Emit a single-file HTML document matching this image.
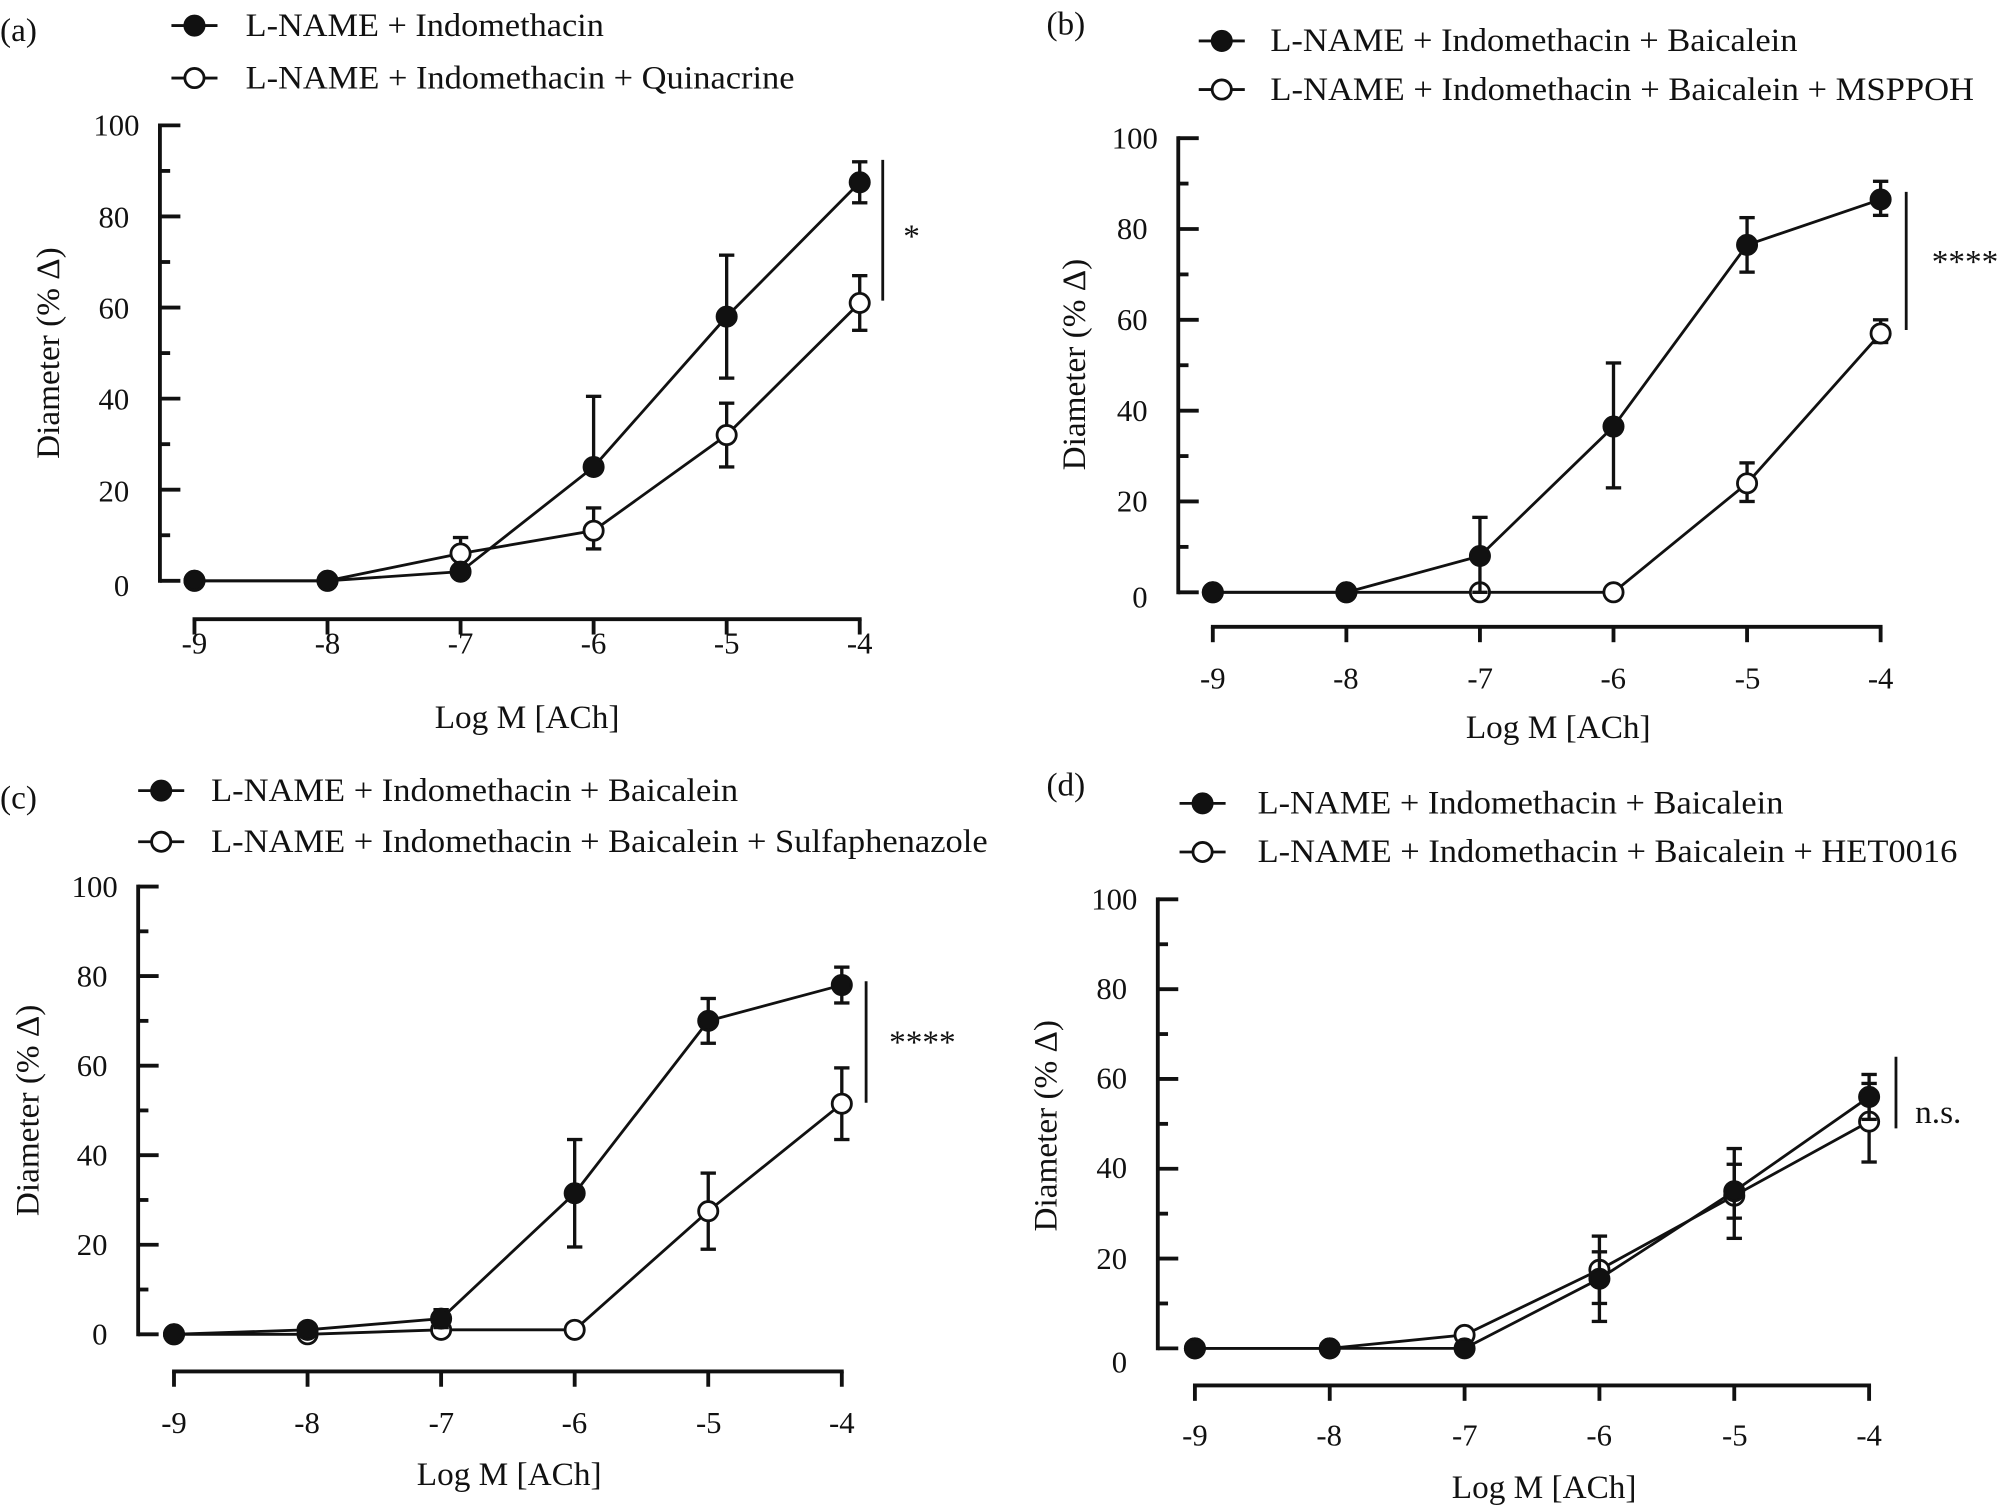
<!DOCTYPE html>
<html><head><meta charset="utf-8"><style>
html,body{margin:0;padding:0;background:#fff}
svg{display:block}
text{font-family:"Liberation Serif",serif;fill:#111}
</style></head><body>
<svg id="s" width="2006" height="1507" viewBox="0 0 1568 1178" preserveAspectRatio="none" xmlns="http://www.w3.org/2000/svg">
<g id="g" stroke="#111" stroke-width="2.2" fill="none"></g>
<g font-size="26">
<text x="0" y="32">(a)</text>
<text x="818" y="27">(b)</text>
<text x="0" y="632">(c)</text>
<text x="818" y="622">(d)</text>
<text x="192" y="28" textLength="280" lengthAdjust="spacingAndGlyphs">L-NAME + Indomethacin</text>
<text x="192" y="69" textLength="429" lengthAdjust="spacingAndGlyphs">L-NAME + Indomethacin + Quinacrine</text>
<text x="993" y="40" textLength="412" lengthAdjust="spacingAndGlyphs">L-NAME + Indomethacin + Baicalein</text>
<text x="993" y="78" textLength="550" lengthAdjust="spacingAndGlyphs">L-NAME + Indomethacin + Baicalein + MSPPOH</text>
<text x="165" y="626" textLength="412" lengthAdjust="spacingAndGlyphs">L-NAME + Indomethacin + Baicalein</text>
<text x="165" y="666" textLength="607" lengthAdjust="spacingAndGlyphs">L-NAME + Indomethacin + Baicalein + Sulfaphenazole</text>
<text x="983" y="636" textLength="411" lengthAdjust="spacingAndGlyphs">L-NAME + Indomethacin + Baicalein</text>
<text x="983" y="674" textLength="547" lengthAdjust="spacingAndGlyphs">L-NAME + Indomethacin + Baicalein + HET0016</text>
<text x="706" y="193">*</text>
<text x="1510" y="213">****</text>
<text x="695" y="823">****</text>
<text x="1497" y="878">n.s.</text>
<text x="412" y="569" text-anchor="middle">Log M [ACh]</text>
<text x="1218" y="577" text-anchor="middle">Log M [ACh]</text>
<text x="398" y="1161" text-anchor="middle">Log M [ACh]</text>
<text x="1207" y="1171" text-anchor="middle">Log M [ACh]</text>
<text transform="translate(46,276) rotate(-90)" text-anchor="middle">Diameter (% Δ)</text>
<text transform="translate(848,285) rotate(-90)" text-anchor="middle">Diameter (% Δ)</text>
<text transform="translate(30,868) rotate(-90)" text-anchor="middle">Diameter (% Δ)</text>
<text transform="translate(826,880) rotate(-90)" text-anchor="middle">Diameter (% Δ)</text>
</g>
<g font-size="24" text-anchor="end">
<text x="109" y="106">100</text><text x="101" y="178">80</text><text x="101" y="249">60</text><text x="101" y="320">40</text><text x="101" y="392">20</text><text x="101" y="466">0</text>
<text x="905" y="116">100</text><text x="897" y="187">80</text><text x="897" y="258">60</text><text x="897" y="329">40</text><text x="897" y="400">20</text><text x="897" y="475">0</text>
<text x="92" y="701">100</text><text x="84" y="771">80</text><text x="84" y="841">60</text><text x="84" y="911">40</text><text x="84" y="981">20</text><text x="84" y="1051">0</text>
<text x="889" y="711">100</text><text x="881" y="781">80</text><text x="881" y="851">60</text><text x="881" y="921">40</text><text x="881" y="992">20</text><text x="881" y="1073">0</text>
</g>
<g font-size="24" text-anchor="middle">
<text x="152" y="511">-9</text><text x="256" y="511">-8</text><text x="360" y="511">-7</text><text x="464" y="511">-6</text><text x="568" y="511">-5</text><text x="672" y="511">-4</text>
<text x="948" y="538">-9</text><text x="1052" y="538">-8</text><text x="1157" y="538">-7</text><text x="1261" y="538">-6</text><text x="1366" y="538">-5</text><text x="1470" y="538">-4</text>
<text x="136" y="1120">-9</text><text x="240" y="1120">-8</text><text x="345" y="1120">-7</text><text x="449" y="1120">-6</text><text x="554" y="1120">-5</text><text x="658" y="1120">-4</text>
<text x="934" y="1130">-9</text><text x="1039" y="1130">-8</text><text x="1145" y="1130">-7</text><text x="1250" y="1130">-6</text><text x="1356" y="1130">-5</text><text x="1461" y="1130">-4</text>
</g>
</svg>
<script>
const g=document.getElementById('g');const NS='http://www.w3.org/2000/svg';
function el(t,a){const e=document.createElementNS(NS,t);for(const k in a)e.setAttribute(k,a[k]);g.appendChild(e);return e;}
function L(x1,y1,x2,y2,w){const e=el('line',{x1,y1,x2,y2});if(w)e.setAttribute('stroke-width',w);}
function panel(P){
 const {ax,top,zero,xa,x0,x1}=P;const dx=(x1-x0)/5,sy=(zero-top)/100;
 const Y=v=>zero-v*sy,X=i=>x0+i*dx;
 L(ax,top-1.5,ax,zero+1.5,3);for(let v=0;v<=100;v+=10){L(ax,Y(v),ax+(v%20?8:16),Y(v),3);}
 L(x0-1.5,xa,x1+1.5,xa,3);for(let i=0;i<6;i++)L(X(i),xa,X(i),xa+12,3);
 for(const [s,fill] of [[P.o,'#fff'],[P.f,'#111']]){
  el('polyline',{points:s.map((d,i)=>X(i)+','+Y(d[0])).join(' ')});
  s.forEach((d,i)=>{if(d[1]!=null){const x=X(i);L(x,Y(d[1]),x,Y(d[2]),2.6);L(x-6,Y(d[1]),x+6,Y(d[1]),2.6);L(x-6,Y(d[2]),x+6,Y(d[2]),2.6);}});
  s.forEach((d,i)=>el('circle',{cx:X(i),cy:Y(d[0]),r:7.5,fill}));
 }
 L(P.sig[0],P.sig[1],P.sig[0],P.sig[2]);
 const [lx,ly1,ly2]=P.leg;
 L(lx-18,ly1,lx+18,ly1);el('circle',{cx:lx,cy:ly1,r:7.5,fill:'#111'});
 L(lx-18,ly2,lx+18,ly2);el('circle',{cx:lx,cy:ly2,r:7.5,fill:'#fff'});
}
panel({ax:125,top:98,zero:454,xa:484,x0:152,x1:672,
 f:[[0],[0],[2],[25,40.5,25],[58,71.5,44.5],[87.5,92,83]],
 o:[[0],[0],[6,9.5,3],[11,16,7],[32,39,25],[61,67,55]],sig:[690,125,235],leg:[152,20,61]});
panel({ax:921,top:108,zero:463,xa:490,x0:948,x1:1470,
 f:[[0],[0],[8,16.5,0],[36.5,50.5,23],[76.5,82.5,70.5],[86.5,90.5,83]],
 o:[[0],[0],[0],[0],[24,28.5,20],[57,60,55]],sig:[1490,150,258],leg:[955,32,70]});
panel({ax:108,top:693,zero:1043,xa:1072,x0:136,x1:658,
 f:[[0],[1],[3.5,5.5,1.5],[31.5,43.5,19.5],[70,75,65],[78,82,74]],
 o:[[0],[0],[1],[1],[27.5,36,19],[51.5,59.5,43.5]],sig:[677,767,862],leg:[126,618,658]});
panel({ax:905,top:703,zero:1054,xa:1083,x0:934,x1:1461,
 f:[[0],[0],[0],[15.5,21.5,6],[35,41,29],[56,61,51]],
 o:[[0],[0],[3],[17.5,25,10],[34,44.5,24.5],[50.5,59,41.5]],sig:[1482,826,882],leg:[940,628,666]});
</script>
</body></html>
